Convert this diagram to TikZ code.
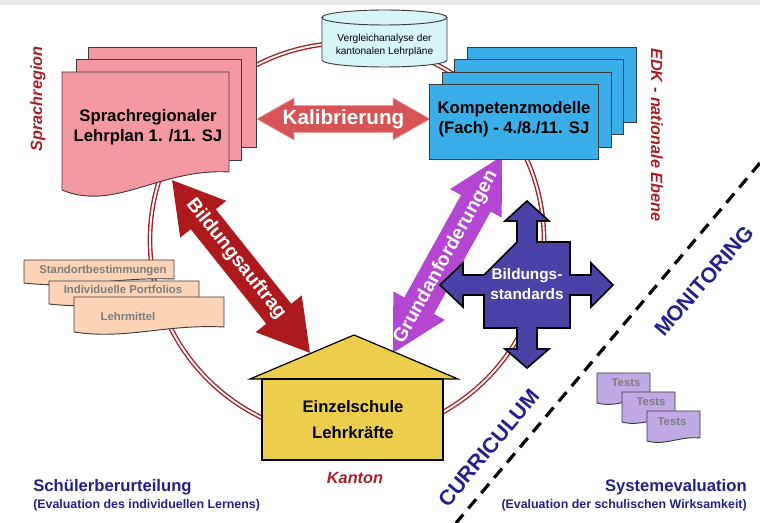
\documentclass[tikz,border=0pt]{standalone}
\usepackage{fontspec}
\setmainfont{Liberation Sans}
\usepackage{xcolor}
\definecolor{ringred}{RGB}{168,32,38}
\definecolor{stripgray}{RGB}{234,234,234}
\definecolor{docborder}{RGB}{60,60,60}
\definecolor{pinkdoc}{RGB}{244,152,162}
\definecolor{bluedoc}{RGB}{58,174,232}
\definecolor{cylfill}{RGB}{216,245,245}
\definecolor{peachdoc}{RGB}{252,211,181}
\definecolor{testdoc}{RGB}{191,170,230}
\definecolor{docgray}{RGB}{125,125,125}
\definecolor{kalibred}{RGB}{214,84,86}
\definecolor{auftragred}{RGB}{173,26,30}
\definecolor{grundpurple}{RGB}{180,70,210}
\definecolor{standardblue}{RGB}{74,66,166}
\definecolor{houseyellow}{RGB}{236,205,76}
\definecolor{navy}{RGB}{35,32,140}

\begin{document}
\begin{tikzpicture}[x=0.75pt,y=0.75pt,yscale=-1,xscale=1,
    ring/.style={draw=ringred, double=white, double distance=1.4pt, line width=1.05pt},
    doc/.style={draw=docborder, line width=0.7pt},
    bigtxt/.style={inner sep=0.75pt, align=center, font=\fontsize{12.5}{15}\selectfont\bfseries},
    arrowtxt/.style={inner sep=0.75pt, text=white, font=\fontsize{14.5}{16}\selectfont\bfseries},
    regiontxt/.style={inner sep=0.75pt, text=ringred, font=\fontsize{12.2}{14}\selectfont\bfseries\itshape},
    smalltxt/.style={inner sep=0.75pt, text=docgray, font=\fontsize{8.5}{10}\selectfont\bfseries},
    evaltxt/.style={inner sep=0.75pt, text=navy, font=\fontsize{12.5}{14}\selectfont\bfseries},
    evalsub/.style={inner sep=0.75pt, text=navy, font=\fontsize{9.3}{11}\selectfont\bfseries},
    sidetxt/.style={inner sep=0.75pt, text=navy, font=\fontsize{16}{18}\selectfont\bfseries},
    divider/.style={dash pattern=on 9pt off 6pt, line width=2.4pt}]
    \useasboundingbox (0,0) rectangle (760,523);

    %Shape: Rectangle [top strip]
    \fill [stripgray] (0,0) rectangle (760,5);
    %Shape: Circle [ring]
    \draw [ring] (347,240) circle (197);

    %Shape: Double Arrow [Kalibrierung]
    \begin{scope}[shift={(343.5,119)}]
    \draw [fill=kalibred, draw=kalibred!55!white, line width=0.5pt] (-86.5,0) -- (-49.5,-21) -- (-49.5,-13.5) -- (49.5,-13.5) -- (49.5,-21) -- (86.5,0) -- (49.5,21) -- (49.5,13.5) -- (-49.5,13.5) -- (-49.5,21) -- cycle ;
    \end{scope}
    %Shape: Double Arrow [Bildungsauftrag]
    \begin{scope}[shift={(241,266.5)}, rotate=51.4]
    \fill [auftragred] (-110.5,0) -- (-60.5,-29.5) -- (-60.5,-16) -- (60.5,-16) -- (60.5,-29.5) -- (110.5,0) -- (60.5,29.5) -- (60.5,16) -- (-60.5,16) -- (-60.5,29.5) -- cycle ;
    \end{scope}
    %Shape: Double Arrow [Grundanforderungen]
    \begin{scope}[shift={(447.5,254.5)}, rotate=-61]
    \fill [grundpurple] (-112.5,0) -- (-58.5,-29.5) -- (-58.5,-17) -- (58.5,-17) -- (58.5,-29.5) -- (112.5,0) -- (58.5,29.5) -- (58.5,17) -- (-58.5,17) -- (-58.5,29.5) -- cycle ;
    \end{scope}

    %Shape: Multidocument [Lehrplan]
    \draw [doc, fill=pinkdoc] (88,47) rectangle (256,147) ;
    \draw [doc, fill=pinkdoc] (76,59) rectangle (241,160) ;
    \draw [doc, fill=pinkdoc] (62,72) -- (229,72) -- (229,172) .. controls (160,168) and (115,212) .. (62,190) -- cycle ;
    %Shape: Rectangles [Kompetenzmodelle]
    \draw [doc, fill=bluedoc] (467,47) rectangle (636,122) ;
    \draw [doc, fill=bluedoc] (454,59) rectangle (623,134) ;
    \draw [doc, fill=bluedoc] (442,72) rectangle (611,147) ;
    \draw [doc, fill=bluedoc] (429,84) rectangle (598,159) ;
    %Shape: Can [Vergleichanalyse]
    \draw [doc, fill=cylfill] (322,17.5) -- (322,60) arc [start angle=180, end angle=0, x radius=62.5, y radius=7] -- (447,17.5) -- cycle ;
    \draw [doc, fill=cylfill] (384.5,17.5) ellipse [x radius=62.5, y radius=7.5] ;

    %Shape: Documents [left]
    \draw [doc, fill=peachdoc] (24,260) -- (174,260) -- (174,279) .. controls (114,277) and (76.5,289) .. (24,283) -- cycle ;
    \draw [doc, fill=peachdoc] (49,281) -- (199,281) -- (199,300) .. controls (139,298) and (101.5,310) .. (49,304) -- cycle ;
    \draw [doc, fill=peachdoc] (74,297) -- (224,297) -- (224,327) .. controls (164,324) and (126.5,340) .. (74,332) -- cycle ;

    %Shape: House [Einzelschule]
    \draw [fill=houseyellow, line width=0.9pt] (250,379) -- (354,335) -- (458,379) -- cycle ;
    \draw [fill=houseyellow, line width=0.9pt] (262,379) rectangle (443,460) ;

    %Shape: Quad Arrow [Bildungsstandards]
    \begin{scope}[shift={(527,285)}]
    \draw [fill=standardblue, line width=1.2pt, line join=miter] (-10,-43) -- (-10,-64) -- (-22,-64) -- (0,-84) -- (22,-64) -- (10,-64) -- (10,-43) -- (43,-43) -- (43,-10) -- (64,-10) -- (64,-22) -- (86,0) -- (64,22) -- (64,10) -- (43,10) -- (43,43) -- (10,43) -- (10,64) -- (22,64) -- (0,83) -- (-22,64) -- (-10,64) -- (-10,43) -- (-43,43) -- (-43,10) -- (-64,10) -- (-64,22) -- (-87,0) -- (-64,-22) -- (-64,-10) -- (-43,-10) -- cycle ;
    \end{scope}

    %Shape: Documents [Tests]
    \draw [doc, fill=testdoc] (597,373) -- (650,373) -- (650,400) .. controls (629,398) and (615.5,408) .. (597,403) -- cycle ;
    \draw [doc, fill=testdoc] (622,392) -- (675,392) -- (675,419) .. controls (654,417) and (640.5,427) .. (622,422) -- cycle ;
    \draw [doc, fill=testdoc] (647,411) -- (700,411) -- (700,438) .. controls (679,436) and (665.5,446) .. (647,441) -- cycle ;

    %Straight Lines [divider]
    \coordinate (divtop) at (760,163) ;
    \coordinate (divbot) at (456,523) ;
    \draw [divider] (divtop) -- (divbot) ;

    % Text Node
    \draw (148,127) node (lehrplan) [bigtxt] {Sprachregionaler\\Lehrplan 1. /11. SJ};
    % Text Node
    \draw (514,119) node (kompetenz) [bigtxt] {Kompetenzmodelle\\(Fach) - 4./8./11. SJ};
    % Text Node
    \draw (384.5,45.5) node (vergleich) [inner sep=0.75pt, align=center, font=\fontsize{7.6}{9.75}\selectfont] {Vergleichanalyse der\\kantonalen Lehrpläne};
    % Text Node
    \draw (343.5,119) node (kalib) [inner sep=0.75pt, text=white, font=\fontsize{15.5}{17}\selectfont\bfseries] {Kalibrierung};
    % Text Node
    \draw (236,259) node (auftrag) [arrowtxt, rotate=-51.4] {Bildungsauftrag};
    % Text Node
    \draw (446,257) node (grundanf) [arrowtxt, rotate=61] {Grundanforderungen};
    % Text Node
    \draw (527,284) node (standards) [inner sep=0.75pt, align=center, text=white, font=\fontsize{11.5}{14.5}\selectfont\bfseries] {Bildungs-\\standards};
    % Text Node
    \draw (353,420) node (schule) [bigtxt, font=\fontsize{12.5}{19.5}\selectfont\bfseries] {Einzelschule\\Lehrkräfte};
    % Text Node
    \draw (355,478) node (kanton) [regiontxt] {Kanton};
    % Text Node
    \draw (38,99) node (sprachreg) [regiontxt, rotate=90] {Sprachregion};
    % Text Node
    \draw (657,135) node (edk) [regiontxt, rotate=-90] {EDK - nationale Ebene};
    % Text Node
    \draw (103,271) node (standort) [smalltxt] {Standortbestimmungen};
    % Text Node
    \draw (123,289) node (portfolio) [smalltxt] {Individuelle Portfolios};
    % Text Node
    \draw (128,316) node (lehrmittel) [smalltxt] {Lehrmittel};
    % Text Node
    \draw (626,383) node (testa) [smalltxt] {Tests};
    % Text Node
    \draw (651,402) node (testb) [smalltxt] {Tests};
    % Text Node
    \draw (672,422) node (testc) [smalltxt] {Tests};
    % Text Node
    \draw (489,448) node (curriculum) [sidetxt, rotate=50] {CURRICULUM};
    % Text Node
    \draw (704,281) node (monitoring) [sidetxt, rotate=49] {MONITORING};
    % Text Node
    \draw (32,487) node (schueler) [evaltxt, anchor=west] {Schülerberurteilung};
    % Text Node
    \draw (32,505) node (schuelersub) [evalsub, anchor=west] {(Evaluation des individuellen Lernens)};
    % Text Node
    \draw (748,487) node (system) [evaltxt, anchor=east] {Systemevaluation};
    % Text Node
    \draw (748,505) node (systemsub) [evalsub, anchor=east] {(Evaluation der schulischen Wirksamkeit)};

\end{tikzpicture}
\end{document}
